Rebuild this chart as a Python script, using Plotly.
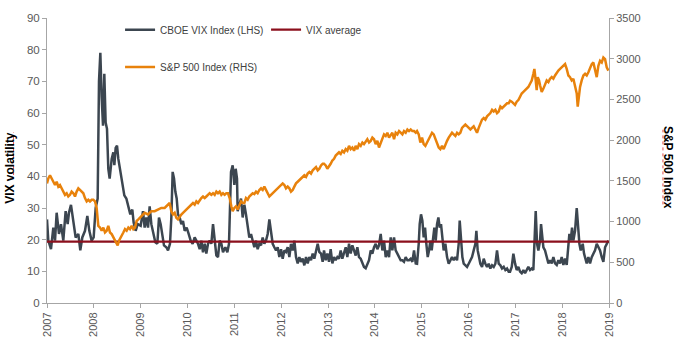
import plotly.graph_objects as go

# ---------------- data ----------------
vix_years = [
    2007.000, 2007.028, 2007.085, 2007.135, 2007.171, 2007.206, 2007.256, 2007.299, 2007.348, 2007.398,
    2007.441, 2007.469, 2007.512, 2007.562, 2007.612, 2007.669, 2007.711, 2007.754, 2007.811, 2007.861,
    2007.904, 2007.953, 2007.996, 2008.039, 2008.082, 2008.110, 2008.139, 2008.167, 2008.196, 2008.224,
    2008.252, 2008.281, 2008.309, 2008.338, 2008.381, 2008.416, 2008.438, 2008.466, 2008.495, 2008.523,
    2008.566, 2008.608, 2008.651, 2008.694, 2008.737, 2008.779, 2008.822, 2008.850, 2008.893, 2008.936,
    2009.000, 2009.050, 2009.085, 2009.121, 2009.157, 2009.192, 2009.228, 2009.263, 2009.313, 2009.356,
    2009.391, 2009.427, 2009.455, 2009.498, 2009.548, 2009.584, 2009.626, 2009.655, 2009.683, 2009.712,
    2009.740, 2009.769, 2009.797, 2009.833, 2009.868, 2009.904, 2009.940, 2009.982, 2010.025, 2010.068,
    2010.110, 2010.153, 2010.189, 2010.224, 2010.260, 2010.295, 2010.331, 2010.367, 2010.402, 2010.438,
    2010.473, 2010.509, 2010.545, 2010.580, 2010.616, 2010.651, 2010.687, 2010.723, 2010.758, 2010.808,
    2010.851, 2010.886, 2010.908,
    2010.929, 2010.965, 2011.000, 2011.029, 2011.057, 2011.071, 2011.107, 2011.143, 2011.178, 2011.214,
    2011.249, 2011.285, 2011.320, 2011.356, 2011.392, 2011.427, 2011.463, 2011.498, 2011.534, 2011.570,
    2011.605, 2011.641, 2011.676, 2011.712, 2011.748, 2011.783, 2011.819, 2011.854, 2011.890, 2011.926,
    2011.961, 2011.997, 2012.032, 2012.068, 2012.103, 2012.139, 2012.175, 2012.210, 2012.246, 2012.281,
    2012.317, 2012.353, 2012.388, 2012.424, 2012.459, 2012.495, 2012.531, 2012.566, 2012.602, 2012.637,
    2012.673, 2012.708, 2012.744, 2012.780, 2012.815, 2012.851, 2012.886,
    2012.915, 2012.951, 2012.986, 2013.022, 2013.057, 2013.093, 2013.129, 2013.164, 2013.200, 2013.235,
    2013.271, 2013.306, 2013.342, 2013.378, 2013.413, 2013.449, 2013.484, 2013.520, 2013.556, 2013.591,
    2013.627, 2013.662, 2013.698, 2013.734, 2013.769, 2013.805, 2013.840, 2013.876, 2013.912, 2013.947,
    2013.983, 2014.018, 2014.054, 2014.089, 2014.125, 2014.161, 2014.196, 2014.232, 2014.267, 2014.303,
    2014.339, 2014.374, 2014.410, 2014.445, 2014.481, 2014.517, 2014.552, 2014.588, 2014.623, 2014.659,
    2014.695, 2014.730, 2014.766, 2014.801, 2014.837, 2014.873,
    2014.901, 2014.937, 2014.958, 2014.986, 2015.015, 2015.043, 2015.072, 2015.100, 2015.129, 2015.157,
    2015.186, 2015.214, 2015.243, 2015.271, 2015.300, 2015.328, 2015.357, 2015.385, 2015.413, 2015.442,
    2015.470, 2015.506, 2015.542, 2015.577, 2015.613, 2015.648, 2015.684, 2015.720, 2015.755, 2015.791,
    2015.812, 2015.841, 2015.869, 2015.898, 2015.933, 2015.969, 2016.004, 2016.040, 2016.075, 2016.111,
    2016.147, 2016.168, 2016.196, 2016.225, 2016.253, 2016.289, 2016.325, 2016.360, 2016.396, 2016.431,
    2016.467, 2016.503, 2016.538, 2016.574, 2016.609, 2016.645, 2016.681, 2016.716, 2016.752, 2016.787,
    2016.823, 2016.858,
    2016.887, 2016.923, 2016.958, 2016.994, 2017.029, 2017.065, 2017.101, 2017.136, 2017.172, 2017.207,
    2017.243, 2017.278, 2017.314, 2017.350, 2017.385, 2017.407, 2017.435, 2017.464, 2017.492, 2017.528,
    2017.549, 2017.577, 2017.599, 2017.634, 2017.670, 2017.706, 2017.741, 2017.777, 2017.812, 2017.848,
    2017.884, 2017.919, 2017.955, 2017.990, 2018.026, 2018.062, 2018.097, 2018.133, 2018.154, 2018.182,
    2018.211, 2018.239, 2018.275, 2018.311, 2018.339, 2018.368, 2018.396, 2018.439, 2018.467, 2018.496,
    2018.524, 2018.560, 2018.595, 2018.631, 2018.666, 2018.702, 2018.738, 2018.773, 2018.809, 2018.845,
    2018.880, 2018.916, 2018.951, 2018.987,
]
vix_values = [
    26.4, 19.7, 17.0, 23.8, 19.7, 28.5, 21.8, 24.9, 19.7, 29.0,
    24.9, 28.5, 31.0, 25.0, 20.7, 21.8, 16.6, 20.7, 22.8, 27.5,
    22.8, 19.7, 20.7, 30.0, 33.0, 70.0, 79.0, 65.0, 56.0, 72.4,
    57.0, 55.0, 42.4, 39.3, 45.5, 47.6, 43.5, 49.0, 49.7, 45.5,
    41.4, 38.3, 34.0, 33.0, 30.0, 28.0, 29.5, 25.4, 22.8, 24.9,
    24.4, 29.0, 23.8, 27.0, 23.8, 30.5, 24.9, 22.8, 19.2, 18.7,
    27.0, 24.9, 21.8, 18.2, 17.6, 16.6, 18.7, 27.0, 41.4, 39.3,
    35.2, 33.0, 28.0, 27.0, 24.9, 25.9, 22.8, 23.8, 21.8, 19.7,
    18.7, 20.7, 19.7, 18.7, 17.0, 19.7, 16.0, 18.7, 15.6, 18.7,
    19.7, 18.7, 24.9, 18.7, 15.0, 14.5, 19.7, 18.7, 16.0, 17.6,
    16.0, 18.7, 29.0,
    41.4, 43.5, 37.3, 42.4, 39.3, 29.0, 31.0, 33.0, 27.0, 31.0,
    28.0, 23.8, 20.7, 21.8, 19.7, 17.6, 19.7, 17.0, 18.7, 18.2,
    20.7, 18.7, 19.7, 21.8, 26.4, 22.8, 18.7, 17.6, 16.6, 17.6,
    14.5, 17.0, 14.0, 16.6, 16.1, 17.6, 14.5, 18.7, 16.6, 19.7,
    14.5, 12.5, 14.5, 13.0, 14.0, 11.9, 14.5, 12.5, 14.5, 13.5,
    15.6, 14.0, 16.6, 18.7, 16.1, 15.6, 13.0,
    16.6, 13.5, 15.6, 13.0, 17.0, 12.5, 14.5, 13.5, 14.5, 14.0,
    16.6, 14.0, 15.6, 17.6, 14.5, 18.7, 15.6, 18.2, 16.6, 15.0,
    17.6, 14.5, 14.0, 12.5, 11.4, 11.0, 12.5, 13.5, 16.6, 15.6,
    17.6, 18.7, 17.0, 18.2, 21.8, 16.6, 19.7, 14.5, 16.6, 14.5,
    20.7, 16.6, 20.7, 16.6, 15.6, 14.5, 13.5, 13.5, 13.0, 14.5,
    13.5, 13.5, 14.0, 13.0, 16.6, 12.5,
    12.4, 18.7, 24.9, 28.0, 26.0, 20.7, 23.8, 18.7, 14.5, 16.6,
    19.7, 16.6, 20.7, 23.8, 19.7, 24.9, 27.0, 23.8, 24.9, 19.7,
    16.6, 18.7, 14.5, 12.4, 13.5, 14.5, 13.5, 14.5, 13.5, 18.7,
    26.0, 18.7, 14.5, 12.4, 11.9, 11.4, 12.4, 13.5, 14.5, 16.6,
    18.7, 22.8, 16.6, 14.5, 12.4, 11.4, 14.0, 12.4, 11.4, 12.4,
    10.9, 11.9, 11.4, 12.4, 16.6, 12.4, 11.9, 10.9, 11.4, 10.4,
    10.9, 9.9,
    9.9, 11.4, 15.6, 12.5, 10.4, 11.4, 9.9, 9.4, 10.4, 9.4,
    10.4, 11.4, 10.4, 10.9, 10.4, 16.6, 29.0, 18.7, 16.6, 19.7,
    24.9, 20.7, 17.6, 16.6, 14.5, 12.5, 13.5, 12.5, 14.5, 12.5,
    12.0, 13.5, 12.5, 14.5, 12.0, 14.0, 12.0, 18.7, 21.8, 19.7,
    23.8, 19.7, 22.8, 30.0, 24.9, 18.7, 16.6, 18.7, 15.6, 13.5,
    12.5, 14.5, 12.5, 14.5, 15.6, 16.6, 18.7, 17.6, 16.6, 14.5,
    13.0, 17.6, 18.7, 19.7,
]

spx_years = [
    2007.000, 2007.028, 2007.064, 2007.099, 2007.135, 2007.171, 2007.206, 2007.242, 2007.277, 2007.313,
    2007.348, 2007.384, 2007.420, 2007.455, 2007.491, 2007.526, 2007.562, 2007.598, 2007.633, 2007.669,
    2007.704, 2007.740, 2007.776, 2007.811, 2007.847, 2007.882, 2007.918, 2007.953, 2007.989, 2008.025,
    2008.060, 2008.096, 2008.131, 2008.167, 2008.203, 2008.238, 2008.274, 2008.309, 2008.345, 2008.381,
    2008.416, 2008.452, 2008.487, 2008.509, 2008.537, 2008.580, 2008.630, 2008.665, 2008.701, 2008.737,
    2008.772, 2008.808, 2008.843, 2008.879, 2008.914, 2008.950,
    2009.014, 2009.085, 2009.157, 2009.228, 2009.299, 2009.370, 2009.441, 2009.512, 2009.584, 2009.619,
    2009.655, 2009.690, 2009.726, 2009.762, 2009.797, 2009.833, 2009.868, 2009.904, 2009.940, 2009.975,
    2010.011, 2010.046, 2010.082, 2010.117, 2010.153, 2010.189, 2010.224, 2010.260, 2010.295, 2010.331,
    2010.367, 2010.402, 2010.438, 2010.473, 2010.509, 2010.545, 2010.580, 2010.616, 2010.651, 2010.687,
    2010.723, 2010.758, 2010.794, 2010.829, 2010.865, 2010.900, 2010.936,
    2010.965, 2011.000, 2011.036, 2011.071, 2011.107, 2011.143, 2011.178, 2011.214, 2011.249, 2011.285,
    2011.320, 2011.356, 2011.392, 2011.427, 2011.463, 2011.498, 2011.534, 2011.570, 2011.605, 2011.641,
    2011.676, 2011.712, 2011.748, 2011.783, 2011.819, 2011.854, 2011.890, 2011.926, 2011.961, 2011.997,
    2012.032, 2012.068, 2012.103, 2012.139, 2012.175, 2012.210, 2012.246, 2012.281, 2012.317, 2012.353,
    2012.388, 2012.424, 2012.459, 2012.495, 2012.531, 2012.566, 2012.602, 2012.637, 2012.673, 2012.708,
    2012.744, 2012.780, 2012.815, 2012.851, 2012.886,
    2012.915, 2012.951, 2012.986, 2013.022, 2013.057, 2013.093, 2013.129, 2013.164, 2013.200, 2013.235,
    2013.271, 2013.306, 2013.342, 2013.378, 2013.413, 2013.449, 2013.484, 2013.520, 2013.556, 2013.591,
    2013.627, 2013.662, 2013.698, 2013.734, 2013.769, 2013.805, 2013.840, 2013.876, 2013.912, 2013.947,
    2013.983, 2014.018, 2014.054, 2014.089, 2014.125, 2014.161, 2014.196, 2014.232, 2014.267, 2014.303,
    2014.339, 2014.374, 2014.410, 2014.445, 2014.481, 2014.517, 2014.552, 2014.588, 2014.623, 2014.659,
    2014.695, 2014.730, 2014.766, 2014.801, 2014.837, 2014.873,
    2014.901, 2014.937, 2014.972, 2015.008, 2015.043, 2015.079, 2015.115, 2015.150, 2015.186, 2015.221,
    2015.257, 2015.292, 2015.328, 2015.364, 2015.399, 2015.435, 2015.470, 2015.506, 2015.542, 2015.577,
    2015.613, 2015.648, 2015.684, 2015.720, 2015.755, 2015.791, 2015.826, 2015.862, 2015.898, 2015.933,
    2015.969, 2016.004, 2016.040, 2016.075, 2016.111, 2016.147, 2016.182, 2016.218, 2016.253, 2016.289,
    2016.325, 2016.360, 2016.396, 2016.431, 2016.467, 2016.503, 2016.538, 2016.574, 2016.609, 2016.645,
    2016.681, 2016.716, 2016.752, 2016.787, 2016.823, 2016.858,
    2016.887, 2016.923, 2016.958, 2016.994, 2017.029, 2017.065, 2017.101, 2017.136, 2017.172, 2017.207,
    2017.243, 2017.278, 2017.314, 2017.350, 2017.385, 2017.407, 2017.435, 2017.456, 2017.478, 2017.506,
    2017.528, 2017.563, 2017.599, 2017.634, 2017.670, 2017.706, 2017.741, 2017.777, 2017.812, 2017.848,
    2017.884, 2017.919, 2017.955, 2017.990, 2018.026, 2018.062, 2018.097, 2018.133, 2018.168, 2018.204,
    2018.239, 2018.275, 2018.311, 2018.332, 2018.360, 2018.382, 2018.417, 2018.453, 2018.489, 2018.524,
    2018.560, 2018.595, 2018.631, 2018.666, 2018.702, 2018.738, 2018.773, 2018.809, 2018.845, 2018.880,
    2018.916, 2018.951, 2018.987,
]
spx_values = [
    1469, 1529, 1569, 1529, 1489, 1449, 1489, 1429, 1449, 1408,
    1368, 1328, 1348, 1308, 1328, 1368, 1348, 1308, 1368, 1408,
    1388, 1368, 1348, 1288, 1248, 1268, 1248, 1268, 1268, 1248,
    1168, 947, 927, 887, 927, 866, 887, 947, 866, 846,
    806, 766, 726, 706, 766, 806, 866, 907, 887, 927,
    907, 947, 907, 927, 1007, 1027,
    1067, 1107, 1087, 1127, 1127, 1148, 1168, 1168, 1208, 1228,
    1127, 1087, 1107, 1047, 1027, 1067, 1087, 1107, 1127, 1148,
    1168, 1188, 1208, 1228, 1208, 1248, 1228, 1268, 1288, 1308,
    1288, 1308, 1328, 1348, 1328, 1348, 1328, 1368, 1348, 1368,
    1328, 1348, 1328, 1348, 1348, 1288, 1188,
    1127, 1168, 1188, 1148, 1208, 1248, 1228, 1228, 1288, 1268,
    1308, 1328, 1348, 1338, 1368, 1348, 1388, 1408, 1388, 1429,
    1388, 1348, 1308, 1328, 1348, 1368, 1388, 1408, 1429, 1449,
    1469, 1449, 1408, 1429, 1408, 1368, 1388, 1429, 1469, 1489,
    1509, 1529, 1549, 1569, 1549, 1589, 1609, 1589, 1629, 1649,
    1669, 1629, 1649, 1690, 1710,
    1710, 1690, 1649, 1690, 1710, 1750, 1770, 1810, 1830, 1850,
    1830, 1870, 1850, 1890, 1870, 1930, 1890, 1910, 1870, 1930,
    1890, 1951, 1930, 1971, 1951, 1991, 2011, 1971, 1991, 2031,
    2011, 1951, 1991, 1910, 1971, 2011, 2071, 2051, 2091, 2031,
    2071, 2091, 2011, 2091, 2071, 2111, 2091, 2071, 2111, 2091,
    2131, 2111, 2131, 2111, 2111, 2091,
    2111, 2071, 1971, 2031, 1951, 1930, 1971, 2011, 2051, 2091,
    2071, 2011, 1971, 1910, 1890, 1930, 1890, 1951, 1991, 2031,
    2071, 2091, 2071, 2051, 2091, 2071, 2091, 2151, 2171, 2191,
    2171, 2151, 2131, 2151, 2171, 2131, 2091, 2151, 2211, 2252,
    2272, 2252, 2292, 2312, 2332, 2372, 2352, 2372, 2332, 2352,
    2412, 2392, 2412, 2432, 2452, 2452,
    2484, 2472, 2452, 2432, 2472, 2492, 2533, 2573, 2593, 2613,
    2633, 2653, 2693, 2733, 2814, 2874, 2733, 2613, 2774, 2733,
    2673, 2593, 2633, 2693, 2733, 2713, 2754, 2774, 2754, 2794,
    2834, 2854, 2874, 2894, 2914, 2934, 2874, 2794, 2774, 2733,
    2754, 2653, 2573, 2412, 2533, 2653, 2733, 2794, 2814, 2794,
    2834, 2894, 2934, 2954, 2874, 2774, 2914, 2974, 2954, 3014,
    2994, 2894, 2854,
]

vix_average = 19.4
avg_years = [2007, 2019]
avg_values = [vix_average, vix_average]

year_ticks = list(range(2007, 2020))
year_labels = [str(y) for y in year_ticks]

# ---------------- styling ----------------
FONT = "Liberation Sans, Arial, sans-serif"
GREY_TXT = "#595959"
LEG_TXT = "#404040"
AXIS = "#a6a6a6"
C_VIX = "#3c4650"
C_SPX = "#e8820c"
C_AVG = "#8b0f1c"

fig = go.Figure()
fig.add_trace(go.Scatter(x=vix_years, y=vix_values, mode="lines",
                         name="CBOE VIX Index (LHS)", line=dict(color=C_VIX, width=2.5),
                         legend="legend"))
fig.add_trace(go.Scatter(x=spx_years, y=spx_values, mode="lines", yaxis="y2",
                         name="S&P 500 Index (RHS)", line=dict(color=C_SPX, width=2.5),
                         legend="legend2"))
fig.add_trace(go.Scatter(x=avg_years, y=avg_values, mode="lines",
                         name="VIX average", line=dict(color=C_AVG, width=2.2),
                         legend="legend"))

fig.update_layout(
    width=680, height=355,
    margin=dict(l=47, r=71, t=13, b=52, pad=0),
    paper_bgcolor="white", plot_bgcolor="white",
    font=dict(family=FONT, size=11, color=GREY_TXT),
    xaxis=dict(range=[2007, 2019], tickmode="array", tickvals=year_ticks, ticktext=year_labels,
               tickangle=-90, showgrid=False, zeroline=False, showline=True, linecolor=AXIS,
               linewidth=1, ticks="outside", ticklen=4, tickcolor=AXIS,
               tickfont=dict(size=11, color=GREY_TXT)),
    yaxis=dict(range=[0, 90], dtick=10, showgrid=False, zeroline=False, showline=True,
               linecolor=AXIS, linewidth=1, ticks="outside", ticklen=4, tickcolor=AXIS,
               tickfont=dict(size=11.5, color=GREY_TXT)),
    yaxis2=dict(range=[0, 3500], dtick=500, overlaying="y", side="right", showgrid=False,
                zeroline=False, showline=True, linecolor=AXIS, linewidth=1, ticks="outside",
                ticklen=4, tickcolor=AXIS, tickfont=dict(size=11, color=GREY_TXT)),
    legend=dict(orientation="h", x=0.13, y=0.959, xanchor="left", yanchor="middle",
                bgcolor="rgba(0,0,0,0)", font=dict(size=10, color=LEG_TXT),
                entrywidth=101, itemwidth=30, tracegroupgap=0),
    legend2=dict(orientation="h", x=0.13, y=0.828, xanchor="left", yanchor="middle",
                 bgcolor="rgba(0,0,0,0)", font=dict(size=10, color=LEG_TXT), itemwidth=30),
    showlegend=True,
)

fig.add_annotation(text="<b>VIX volatility</b>", xref="paper", yref="paper", x=-0.065, y=0.476,
                   xanchor="center", yanchor="middle", textangle=-90, showarrow=False,
                   font=dict(family=FONT, size=12, color="#000000"))
fig.add_annotation(text="<b>S&P 500 Index</b>", xref="paper", yref="paper", x=1.104, y=0.476,
                   xanchor="center", yanchor="middle", textangle=90, showarrow=False,
                   font=dict(family=FONT, size=12, color="#000000"))

# spell-check style dotted underlines under the axis titles
fig.add_shape(type="line", xref="paper", yref="paper", x0=-0.0595, x1=-0.0595, y0=0.449, y1=0.598,
              line=dict(color="#e05050", width=1, dash="dot"))
fig.add_shape(type="line", xref="paper", yref="paper", x0=1.096, x1=1.096, y0=0.346, y1=0.608,
              line=dict(color="#e05050", width=1, dash="dot"))

fig.write_html("out.html", config={"displayModeBar": False},
               post_script="document.body.style.margin='0';document.body.style.overflow='hidden';")
